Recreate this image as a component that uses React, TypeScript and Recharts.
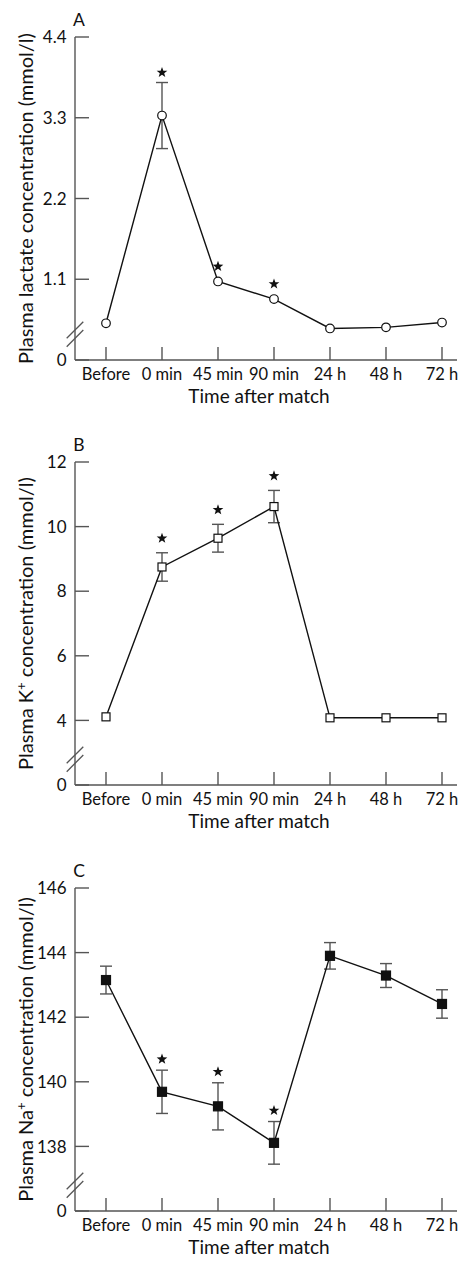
import React from 'react'
import { ComposedChart, Line, XAxis, YAxis, ErrorBar } from 'recharts'

// time points after the match
const categories = ['Before', '0 min', '45 min', '90 min', '24 h', '48 h', '72 h']

// A: plasma lactate (mmol/l)
const lactateMean = [0.5, 3.33, 1.07, 0.83, 0.43, 0.445, 0.51]
const lactateErr = [null, 0.45, null, null, null, null, null]
const lactateSig = [false, true, true, true, false, false, false]
const lactateTicks = [0, 1.1, 2.2, 3.3, 4.4]

// B: plasma K+ (mmol/l) - axis is broken, the bottom tick is drawn as "0"
const potassiumMean = [4.11, 8.75, 9.64, 10.62, 4.08, 4.08, 4.08]
const potassiumErr = [null, 0.44, 0.43, 0.5, null, null, null]
const potassiumSig = [false, true, true, true, false, false, false]
const potassiumTicks = [2, 4, 6, 8, 10, 12]

// C: plasma Na+ (mmol/l) - same broken axis
const sodiumMean = [143.15, 139.69, 139.24, 138.11, 143.9, 143.29, 142.41]
const sodiumErr = [0.43, 0.67, 0.73, 0.66, 0.41, 0.37, 0.44]
const sodiumSig = [false, true, true, true, false, false, false]
const sodiumTicks = [136, 138, 140, 142, 144, 146]

const AXIS = '#555'
const INK = '#111'
const FONT = 'Lato, "Open Sans", sans-serif'
const W = 461
const H = 410
const TOP = 37
const PLOT_H = 323

type Marker = 'circle' | 'square' | 'filledSquare'

const toRows = (mean: number[], err: (number | null)[], sig: boolean[]) =>
  categories.map((name, i) => ({
    name,
    mean: mean[i],
    err: err[i],
    starAt: sig[i] ? mean[i] + (err[i] ?? 0) : null,
  }))

function starPath(cx: number, cy: number, R = 5.6, r = 2.3) {
  let d = ''
  for (let k = 0; k < 10; k++) {
    const rad = k % 2 === 0 ? R : r
    const a = -Math.PI / 2 + (k * Math.PI) / 5
    d += (k === 0 ? 'M' : 'L') + (cx + rad * Math.cos(a)).toFixed(2) + ',' + (cy + rad * Math.sin(a)).toFixed(2)
  }
  return d + 'Z'
}

interface PanelProps {
  letter: string
  rows: ReturnType<typeof toRows>
  domain: [number, number]
  ticks: number[]
  title: [string, string, string]
  marker: Marker
  starGap: number
}

function Panel({ letter, rows, domain, ticks, title, marker, starGap }: PanelProps) {
  const renderDot = (p: any) => {
    const { cx, cy, index } = p
    if (cx == null || cy == null) return <g key={index} />
    if (marker === 'circle')
      return <circle key={index} cx={cx} cy={cy} r={4.3} fill="#fff" stroke={INK} strokeWidth={1.2} />
    const s = marker === 'square' ? 8 : 9
    return (
      <rect key={index} x={cx - s / 2} y={cy - s / 2} width={s} height={s}
        fill={marker === 'square' ? '#fff' : INK} stroke={INK} strokeWidth={1.2} />
    )
  }

  const renderStar = (p: any) => {
    const { cx, cy, index, payload } = p
    if (cx == null || cy == null || payload.starAt == null) return <g key={index} />
    const gap = payload.err ? starGap : 15
    return <path key={index} d={starPath(cx, cy - gap)} fill={INK} />
  }

  const renderXTick = (p: any) => {
    const { x, y, payload } = p
    return (
      <g>
        <line x1={x} x2={x} y1={y} y2={y - 13} stroke={AXIS} strokeWidth={1.4} />
        <text x={x} y={y + 20} textAnchor="middle" fontSize={16.5} fill={INK} fontFamily={FONT}>
          {payload.value}
        </text>
      </g>
    )
  }

  const renderYTick = (p: any) => {
    const { x, y, payload } = p
    const v = payload.value
    const isBottom = v === ticks[0]
    return (
      <g>
        <line x1={x} x2={x + 14} y1={y} y2={y} stroke={AXIS} strokeWidth={1.4} />
        <text x={x - 8.5} y={y} dy="0.36em" textAnchor="end" fontSize={17} fill={INK} fontFamily={FONT}>
          {isBottom ? '0' : String(v)}
        </text>
        {isBottom && (
          <g stroke={AXIS} strokeWidth={1.3}>
            <line x1={x - 8.3} y1={y - 21.7} x2={x + 8.3} y2={y - 38.3} />
            <line x1={x - 8.3} y1={y - 13.3} x2={x + 8.3} y2={y - 30} />
          </g>
        )}
      </g>
    )
  }

  const renderYTitle = () => {
    const cy = TOP + PLOT_H / 2
    return (
      <g fontFamily={FONT} fill={INK}>
        <text x={33} y={cy} transform={`rotate(-90 33 ${cy})`} textAnchor="middle" fontSize={20}>
          {title[0]}
          {title[1] && <tspan dy={-7} fontSize={13}>{title[1]}</tspan>}
          {title[1] ? <tspan dy={7}>{title[2]}</tspan> : title[2]}
        </text>
        <text x={79} y={26} textAnchor="middle" fontSize={17.5}>{letter}</text>
      </g>
    )
  }

  return (
    <ComposedChart width={W} height={H} data={rows} margin={{ top: TOP, right: 4, left: 0, bottom: 10 }}>
      <XAxis dataKey="name" type="category" scale="point" padding={{ left: 31, right: 15 }}
        height={40} interval={0} tickSize={0} tickMargin={0} tickLine={false}
        axisLine={{ stroke: AXIS, strokeWidth: 1.4 }} tick={renderXTick}
        label={{ value: 'Time after match', position: 'insideBottom', offset: -3, dx: -7,
          fontSize: 19, fill: INK, fontFamily: FONT }} />
      <YAxis type="number" domain={domain} ticks={ticks} width={75} interval={0}
        tickSize={0} tickMargin={0} tickLine={false} allowDataOverflow
        axisLine={{ stroke: AXIS, strokeWidth: 1.4 }} tick={renderYTick} label={renderYTitle} />
      <Line dataKey="mean" stroke={INK} strokeWidth={1.4} dot={renderDot} activeDot={false}
        isAnimationActive={false}>
        <ErrorBar dataKey="err" width={6} stroke={AXIS} strokeWidth={1.4} direction="y" />
      </Line>
      <Line dataKey="starAt" stroke="none" dot={renderStar} activeDot={false} isAnimationActive={false} />
    </ComposedChart>
  )
}

export default function App() {
  return (
    <div style={{ position: 'absolute', left: 0, top: 0, width: W, height: 1261, overflow: 'hidden', background: '#fff' }}>
      <div style={{ position: 'absolute', left: 0, top: 0 }}>
        <Panel letter="A" rows={toRows(lactateMean, lactateErr, lactateSig)} domain={[0, 4.4]}
          ticks={lactateTicks} title={['Plasma lactate concentration (mmol/l)', '', '']}
          marker="circle" starGap={10} />
      </div>
      <div style={{ position: 'absolute', left: 0, top: 425 }}>
        <Panel letter="B" rows={toRows(potassiumMean, potassiumErr, potassiumSig)} domain={[2, 12]}
          ticks={potassiumTicks} title={['Plasma K', '+', ' concentration (mmol/l)']}
          marker="square" starGap={14.5} />
      </div>
      <div style={{ position: 'absolute', left: 0, top: 851 }}>
        <Panel letter="C" rows={toRows(sodiumMean, sodiumErr, sodiumSig)} domain={[136, 146]}
          ticks={sodiumTicks} title={['Plasma Na', '+', ' concentration (mmol/l)']}
          marker="filledSquare" starGap={11} />
      </div>
    </div>
  )
}
